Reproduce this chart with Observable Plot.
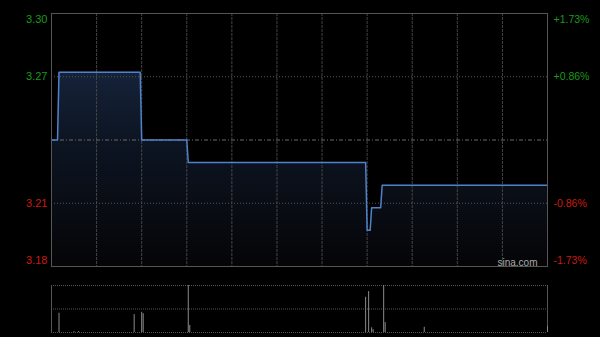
<!DOCTYPE html>
<html><head><meta charset="utf-8">
<script src="https://cdn.jsdelivr.net/npm/d3@7"></script>
<script src="https://cdn.jsdelivr.net/npm/@observablehq/plot@0.6"></script>
<style>
html,body{margin:0;padding:0;background:#000;width:600px;height:337px;overflow:hidden}
#chart{position:relative;width:600px;height:337px;background:#000}
#price,#vol{position:absolute;left:0}
#price{top:0}
#vol{top:272px}
</style></head><body>
<div id="chart"><div id="price"></div><div id="vol"></div></div>
<script>
// ---- data ----
const prevClose = 3.24;
const yDomain = [3.184, 3.296];
const dayMinutes = [0, 330];
const priceMinutes = [0, 4, 5, 59, 60, 90, 91, 209, 210, 212, 213, 219, 220, 330];
const priceValues  = [3.24, 3.24, 3.27, 3.27, 3.24, 3.24, 3.23, 3.23, 3.20, 3.20, 3.21, 3.21, 3.22, 3.22];
const volMinutes = [5, 15, 18, 55, 60, 61, 91, 92, 209, 211, 213, 214, 221, 222, 248, 330];
const volValues  = [41, 2, 2, 38, 43, 40, 100, 15, 75, 87, 10, 6, 100, 21, 11, 13];
const gridMinutes = [30, 60, 90, 120, 150, 180, 210, 240, 270, 300];
const gridPrices = [3.268, 3.212];
const tickPrices = [3.296, 3.268, 3.212, 3.184];
const tickLabelsLeft = ["3.30", "3.27", "3.21", "3.18"];
const tickLabelsRight = ["+1.73%", "+0.86%", "-0.86%", "-1.73%"];
const watermark = "sina.com";
const volGrid = [0, 50, 100];

const price = priceMinutes.map((m, i) => ({m, p: priceValues[i]}));
const vol = volMinutes.map((m, i) => ({m, v: volValues[i]}));
const ticks = tickPrices.map((p, i) => ({p, l: tickLabelsLeft[i], r: tickLabelsRight[i]}));

const font = "'Liberation Sans', Arial, sans-serif";
const GREEN = "#1a9a1a", RED = "#cc1a10";
const OFFS = [6, 0, 0, -6];
const COLS = [GREEN, GREEN, RED, RED];

const labelMarks = [];
ticks.forEach((t, i) => {
  labelMarks.push(Plot.text([t], {x: () => dayMinutes[0], y: "p", text: "l", dx: -4, dy: OFFS[i], textAnchor: "end", fill: COLS[i]}));
  labelMarks.push(Plot.text([t], {x: () => dayMinutes[1], y: "p", text: "r", dx: 6, dy: OFFS[i], textAnchor: "start", fill: COLS[i], fontSize: 10.5}));
});

const pricePlot = Plot.plot({
  width: 600, height: 272,
  marginLeft: 51, marginRight: 53, marginTop: 13, marginBottom: 6,
  style: {background: "#000", color: "#ccc", fontFamily: font, fontSize: "11px", overflow: "visible"},
  x: {domain: dayMinutes, axis: null},
  y: {domain: yDomain, axis: null},
  marks: [
    Plot.areaY(price, {x: "m", y1: () => yDomain[0], y2: "p", fill: "url(#pg)"}),
    Plot.ruleX(gridMinutes, {stroke: "#444", strokeDasharray: "3,1"}),
    Plot.ruleY(gridPrices, {stroke: "#555", strokeDasharray: "1,2"}),
    Plot.ruleY([prevClose], {stroke: "#6a6a6a", strokeDasharray: "4,2,1,2"}),
    Plot.lineY(price, {x: "m", y: "p", stroke: "#4f82cc", strokeWidth: 1.5}),
    Plot.frame({stroke: "#555"}),
    ...labelMarks,
    Plot.text([watermark], {frameAnchor: "bottom-right", text: d => d, dx: -10, dy: -1, fill: "#aaa", fontSize: 10})
  ]
});
const defs = d3.select(pricePlot).insert("defs", ":first-child");
const g = defs.append("linearGradient").attr("id", "pg")
  .attr("gradientUnits", "userSpaceOnUse").attr("x1", 0).attr("y1", 13).attr("x2", 0).attr("y2", 266);
g.append("stop").attr("offset", 0).attr("stop-color", "#1c2d4c");
g.append("stop").attr("offset", 0.5).attr("stop-color", "#0d1523");
g.append("stop").attr("offset", 1).attr("stop-color", "#050507");
document.getElementById("price").appendChild(pricePlot);

const volPlot = Plot.plot({
  width: 600, height: 65,
  marginLeft: 51, marginRight: 53, marginTop: 13, marginBottom: 5,
  style: {background: "#000", color: "#ccc", fontFamily: font, fontSize: "11px"},
  x: {domain: dayMinutes, axis: null},
  y: {domain: [0, 100], axis: null},
  marks: [
    Plot.ruleY(volGrid, {stroke: "#555", strokeDasharray: "1,1"}),
    Plot.ruleX(dayMinutes, {stroke: "#555"}),
    Plot.ruleX(vol, {x: "m", y1: () => 0, y2: "v", stroke: "#8a8a8a"})
  ]
});
document.getElementById("vol").appendChild(volPlot);
</script>
</body></html>
